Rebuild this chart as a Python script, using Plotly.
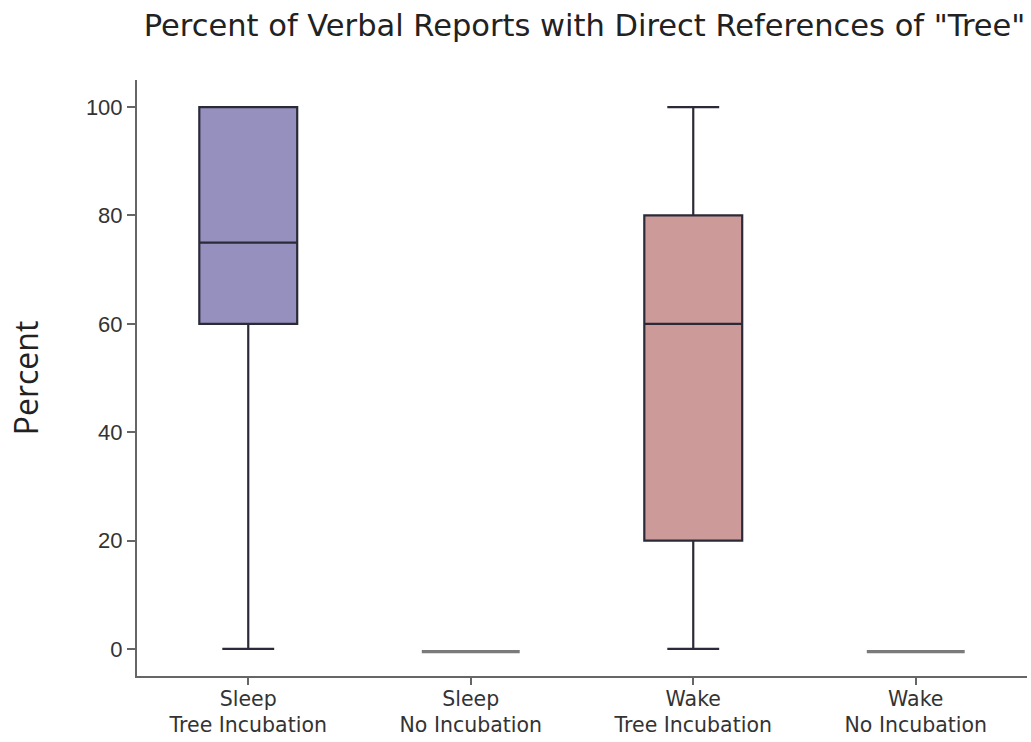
import plotly.graph_objects as go

categories = ["Sleep<br>Tree Incubation", "Sleep<br>No Incubation",
              "Wake<br>Tree Incubation", "Wake<br>No Incubation"]
lower = [0, -0.5, 0, -0.5]
q1 = [60, -0.5, 20, -0.5]
median = [75, -0.5, 60, -0.5]
q3 = [100, -0.5, 80, -0.5]
upper = [100, -0.5, 100, -0.5]
fills = ["#9690BF", "#8a8a8a", "#CC9A98", "#8a8a8a"]
lines = ["#2b2a38", "#7a7a7a", "#2b2a38", "#7a7a7a"]
widths = [2.2, 3.2, 2.2, 3.2]
yticks = [0, 20, 40, 60, 80, 100]

fig = go.Figure()
for i, c in enumerate(categories):
    fig.add_trace(go.Box(
        x=[c], q1=[q1[i]], median=[median[i]], q3=[q3[i]],
        lowerfence=[lower[i]], upperfence=[upper[i]],
        fillcolor=fills[i], line=dict(color=lines[i], width=widths[i]),
        width=0.44, whiskerwidth=0.53, boxpoints=False, showlegend=False,
        hoverinfo="skip",
    ))

fig.update_layout(
    width=1031, height=742,
    margin=dict(l=137, r=4, t=80, b=66),
    plot_bgcolor="white", paper_bgcolor="white",
    title=dict(text='Percent of Verbal Reports with Direct References of "Tree"',
               x=0.567, xanchor="center", y=0.966, yanchor="middle",
               font=dict(family="DejaVu Sans", size=30.5, color="#222")),
    xaxis=dict(type="category", categoryorder="array", categoryarray=categories,
               range=[-0.5, 3.5], showline=True, linecolor="#666", linewidth=2,
               ticks="outside", ticklen=7, tickcolor="#666", tickwidth=2,
               showgrid=False, zeroline=False, automargin=False,
               ticklabelstandoff=-4,
               tickfont=dict(family="DejaVu Sans", size=20.5, color="#333")),
    yaxis=dict(range=[-5, 105], tickvals=yticks, showline=True, linecolor="#666",
               linewidth=2, ticks="outside", ticklen=8, tickcolor="#666", tickwidth=2,
               showgrid=False, zeroline=False, automargin=False,
               tickfont=dict(family="Liberation Sans", size=22, color="#333"),
               title=dict(text="Percent", standoff=38,
                          font=dict(family="Open Sans", size=32, color="#222"))),
)

fig.write_html("out.html", config={"displayModeBar": False},
               post_script="document.body.style.margin='0';")
